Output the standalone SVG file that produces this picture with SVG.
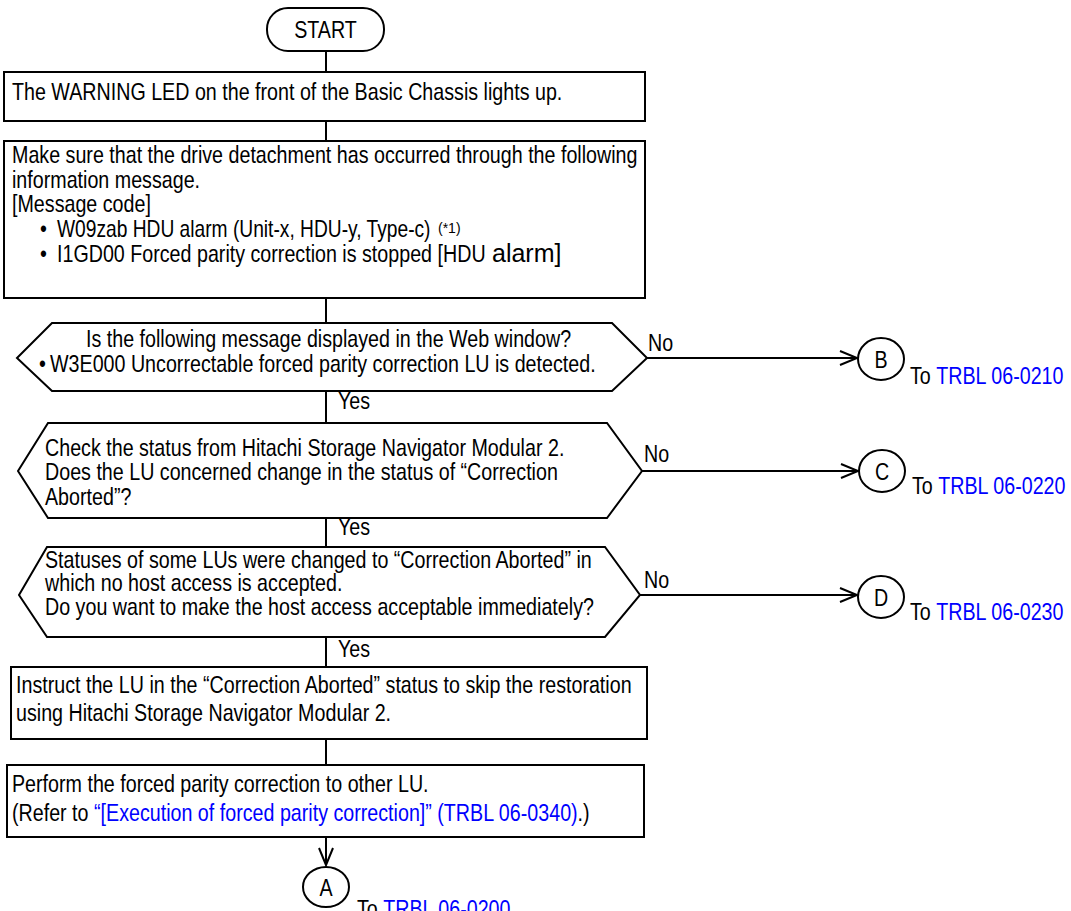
<svg xmlns="http://www.w3.org/2000/svg" width="1071" height="911" viewBox="0 0 1071 911">
<style>
.t{font-family:"Liberation Sans",Arial,sans-serif;font-size:24px;fill:#000}
.s{fill:#fff;stroke:#000;stroke-width:2}
.c{fill:none;stroke:#000;stroke-width:2}
.b{fill:#0000ff}
.m{text-anchor:middle}
</style>
<rect width="1071" height="911" fill="#fff"/>
<g id="connectors">
<line class="c" x1="326" y1="51" x2="326" y2="72"/>
<line class="c" x1="326" y1="121" x2="326" y2="141"/>
<line class="c" x1="326" y1="298" x2="326" y2="323"/>
<line class="c" x1="326" y1="391" x2="326" y2="423"/>
<line class="c" x1="326" y1="518" x2="326" y2="547"/>
<line class="c" x1="326" y1="637" x2="326" y2="667"/>
<line class="c" x1="326" y1="739" x2="326" y2="765"/>
<line class="c" x1="326" y1="837" x2="326" y2="865"/>
<polyline class="c" points="319,848 326,865 333,848"/>
<line class="c" x1="647" y1="358" x2="857" y2="358"/>
<polyline class="c" points="840,351 857,358 840,365"/>
<line class="c" x1="642" y1="471" x2="858" y2="471"/>
<polyline class="c" points="841,464 858,471 841,478"/>
<line class="c" x1="640" y1="595" x2="857" y2="595"/>
<polyline class="c" points="840,588 857,595 840,602"/>
<text class="t" transform="translate(338,409) scale(.82,1)">Yes</text>
<text class="t" transform="translate(338,535) scale(.82,1)">Yes</text>
<text class="t" transform="translate(338,657) scale(.82,1)">Yes</text>
<text class="t" transform="translate(648,351) scale(.82,1)">No</text>
<text class="t" transform="translate(644,462) scale(.82,1)">No</text>
<text class="t" transform="translate(644,588) scale(.82,1)">No</text>
</g>
<g id="start">
<rect class="s" x="267" y="8" width="117" height="43" rx="21" ry="21"/>
<text class="t m" transform="translate(325.5,38) scale(.82,1)">START</text>
</g>
<g id="box1">
<rect class="s" x="4" y="72" width="641" height="49"/>
<text class="t" transform="translate(12,100) scale(.82,1)">The WARNING LED on the front of the Basic Chassis lights up.</text>
</g>
<g id="box2">
<rect class="s" x="4" y="141" width="641" height="157"/>
<text class="t" transform="translate(12,163) scale(.82,1)">Make sure that the drive detachment has occurred through the following</text>
<text class="t" transform="translate(12,188) scale(.82,1)">information message.</text>
<text class="t" transform="translate(12,212) scale(.82,1)">[Message code]</text>
<text class="t" transform="translate(40,237) scale(.82,1)">•</text>
<text class="t" transform="translate(57,237) scale(.80,1)">W09zab HDU alarm (Unit-x, HDU-y, Type-c)</text>
<text class="t" transform="translate(438,233)" style="font-size:14px">(*1)</text>
<text class="t" transform="translate(40,262) scale(.82,1)">•</text>
<text class="t" transform="translate(57,262) scale(.82,1)">I1GD00 Forced parity correction is stopped [HDU</text>
<text class="t" x="492" y="262" style="font-size:25px">alarm]</text>
</g>
<g id="decision1">
<polygon class="s" points="17,358 52,323 612,323 647,358 612,391 52,391"/>
<text class="t" transform="translate(86,347) scale(.82,1)">Is the following message displayed in the Web window?</text>
<text class="t" transform="translate(39,372) scale(.82,1)">•</text>
<text class="t" transform="translate(50,372) scale(.82,1)">W3E000 Uncorrectable forced parity correction LU is detected.</text>
</g>
<g id="decision2">
<polygon class="s" points="18,471 48,423 607,423 642,471 607,518 48,518"/>
<text class="t" transform="translate(45,456) scale(.82,1)">Check the status from Hitachi Storage Navigator Modular 2.</text>
<text class="t" transform="translate(45,480) scale(.82,1)">Does the LU concerned change in the status of “Correction</text>
<text class="t" transform="translate(45,505) scale(.82,1)">Aborted”?</text>
</g>
<g id="decision3">
<polygon class="s" points="19,595 47,547 605,547 640,595 605,637 47,637"/>
<text class="t" transform="translate(45,568) scale(.82,1)">Statuses of some LUs were changed to “Correction Aborted” in</text>
<text class="t" transform="translate(45,591) scale(.82,1)">which no host access is accepted.</text>
<text class="t" transform="translate(45,615) scale(.82,1)">Do you want to make the host access acceptable immediately?</text>
</g>
<g id="box3">
<rect class="s" x="11" y="667" width="636" height="72"/>
<text class="t" transform="translate(16,693) scale(.82,1)">Instruct the LU in the “Correction Aborted” status to skip the restoration</text>
<text class="t" transform="translate(16,721) scale(.82,1)">using Hitachi Storage Navigator Modular 2.</text>
</g>
<g id="box4">
<rect class="s" x="7" y="765" width="637" height="72"/>
<text class="t" transform="translate(12,792) scale(.82,1)">Perform the forced parity correction to other LU.</text>
<text class="t" transform="translate(12,821) scale(.82,1)">(Refer to <tspan class="b">“[Execution of forced parity correction]” (TRBL 06-0340)</tspan>.)</text>
</g>
<g id="connB">
<ellipse class="s" cx="881" cy="359" rx="23" ry="21"/>
<text class="t m" transform="translate(881,368) scale(.82,1)">B</text>
<text class="t" transform="translate(910,384) scale(.82,1)">To <tspan class="b">TRBL 06-0210</tspan></text>
</g>
<g id="connC">
<ellipse class="s" cx="882" cy="471" rx="23" ry="21"/>
<text class="t m" transform="translate(882,480) scale(.82,1)">C</text>
<text class="t" transform="translate(912,494) scale(.82,1)">To <tspan class="b">TRBL 06-0220</tspan></text>
</g>
<g id="connD">
<ellipse class="s" cx="881" cy="597" rx="23" ry="21"/>
<text class="t m" transform="translate(881,606) scale(.82,1)">D</text>
<text class="t" transform="translate(910,620) scale(.82,1)">To <tspan class="b">TRBL 06-0230</tspan></text>
</g>
<g id="connA">
<ellipse class="s" cx="326" cy="887" rx="23" ry="20"/>
<text class="t m" transform="translate(326,896) scale(.82,1)">A</text>
<text class="t" transform="translate(357,917) scale(.82,1)">To <tspan class="b">TRBL 06-0200</tspan></text>
</g>
</svg>
